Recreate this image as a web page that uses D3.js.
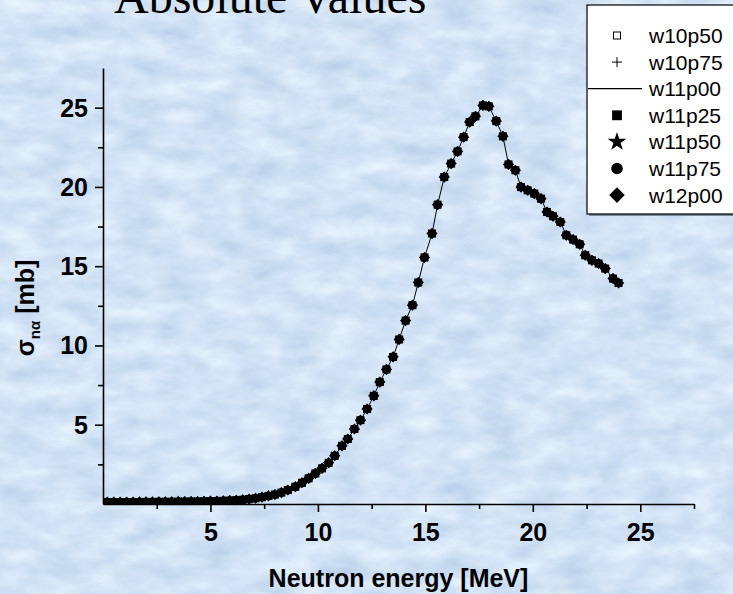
<!DOCTYPE html>
<html>
<head>
<meta charset="utf-8">
<script src="https://cdn.jsdelivr.net/npm/d3@7/dist/d3.min.js"></script>
<style>
  html, body { margin: 0; padding: 0; background: #d2e3f5; }
  svg { display: block; }
</style>
</head>
<body>
<svg id="chart" width="733" height="594"></svg>
<script>
// Neutron energy grid [MeV]
const energy = [
  0.2, 0.5, 0.8, 1.1, 1.4, 1.7, 2.0, 2.3, 2.6, 2.9,
  3.2, 3.5, 3.8, 4.1, 4.4, 4.7, 5.0, 5.3, 5.6, 5.9,
  6.2, 6.5, 6.8, 7.1, 7.4, 7.7, 8.0, 8.3, 8.6, 8.95,
  9.26, 9.57, 9.88, 10.19, 10.5, 10.78, 11.12, 11.39, 11.7, 11.98,
  12.29, 12.6, 12.88, 13.19, 13.5, 13.78, 14.08, 14.4, 14.67, 14.96,
  15.31, 15.57, 15.88, 16.2, 16.5, 16.78, 17.06, 17.33, 17.68, 17.95,
  18.3, 18.61, 18.87, 19.19, 19.45, 19.76, 20.07, 20.38, 20.66, 20.94,
  21.28, 21.56, 21.87, 22.18, 22.44, 22.75, 23.06, 23.37, 23.73, 23.99
];

// (n,alpha) cross section [mb]; the calculated curves coincide on this scale
const sigma = [
  0.12, 0.12, 0.12, 0.12, 0.12, 0.13, 0.13, 0.13, 0.14, 0.14,
  0.14, 0.15, 0.15, 0.16, 0.16, 0.17, 0.18, 0.19, 0.2, 0.22,
  0.24, 0.27, 0.31, 0.36, 0.43, 0.51, 0.6, 0.72, 0.88, 1.09,
  1.34, 1.62, 1.93, 2.25, 2.6, 3.04, 3.67, 4.1, 4.73, 5.29,
  5.99, 6.82, 7.69, 8.49, 9.28, 10.38, 11.57, 12.54, 13.97, 15.55,
  17.06, 18.88, 20.62, 21.47, 22.24, 23.14, 24.09, 24.45, 25.14, 25.08,
  24.15, 23.19, 21.42, 21.05, 19.99, 19.79, 19.58, 19.26, 18.42, 18.15,
  17.79, 16.95, 16.68, 16.38, 15.69, 15.37, 15.17, 14.85, 14.22, 13.94
];

const seriesNames = ["w10p50", "w10p75", "w11p00", "w11p25", "w11p50", "w11p75", "w12p00"];
const seriesKinds = ["openSquare", "plus", "line", "square", "star", "circle", "diamond"];

const xMajorTicks = [5, 10, 15, 20, 25];
const xMinorTicks = [2.5, 7.5, 12.5, 17.5, 22.5, 27.5];
const yMajorTicks = [5, 10, 15, 20, 25];
const yMinorTicks = [2.5, 7.5, 12.5, 17.5, 22.5];

const titleText = "Absolute Values";
const xTitle = "Neutron energy [MeV]";

const svg = d3.select("#chart");
const W = 733, H = 594;
const plot = { left: 103, right: 694, top: 68, bottom: 504 };

// --- textured light-blue paper background ---
const defs = svg.append("defs");
const tissue = defs.append("filter")
  .attr("id", "tissue")
  .attr("filterUnits", "userSpaceOnUse")
  .attr("x", 0).attr("y", 0).attr("width", W).attr("height", H)
  .attr("color-interpolation-filters", "sRGB");
tissue.append("feTurbulence")
  .attr("type", "fractalNoise")
  .attr("baseFrequency", "0.025 0.05")
  .attr("numOctaves", 4)
  .attr("seed", 5);
tissue.append("feColorMatrix")
  .attr("type", "matrix")
  .attr("values",
    "0.22 0 0 0 0.715 " +
    "0.17 0 0 0 0.805 " +
    "0.10 0 0 0 0.91 " +
    "0 0 0 0 1");
svg.append("rect").attr("width", W).attr("height", H).attr("fill", "#d2e3f5");
svg.append("rect").attr("width", W).attr("height", H).attr("filter", "url(#tissue)");

defs.append("clipPath").attr("id", "plotClip")
  .append("rect")
  .attr("x", plot.left).attr("y", 0)
  .attr("width", W - plot.left).attr("height", plot.bottom);

// --- title (runs off the top edge) ---
svg.append("text")
  .attr("x", 114).attr("y", 13)
  .attr("font-family", "'Liberation Serif', 'Times New Roman', serif")
  .attr("font-size", 48)
  .attr("fill", "#000")
  .text(titleText);

// --- scales ---
const x = d3.scaleLinear().domain([0, 27.5]).range([plot.left, plot.right]);
const y = d3.scaleLinear().domain([0, 27.5]).range([plot.bottom, plot.top]);

const axisFont = "'Liberation Sans', Arial, sans-serif";

// --- axes ---
const gx = svg.append("g").attr("transform", `translate(0,${plot.bottom})`);
gx.call(d3.axisBottom(x).tickValues(xMajorTicks).tickSize(8).tickSizeOuter(0).tickPadding(6));
const gxm = svg.append("g").attr("transform", `translate(0,${plot.bottom})`);
gxm.call(d3.axisBottom(x).tickValues(xMinorTicks).tickSize(5).tickSizeOuter(0).tickFormat(""));
gxm.select(".domain").remove();

const gy = svg.append("g").attr("transform", `translate(${plot.left},0)`);
gy.call(d3.axisLeft(y).tickValues(yMajorTicks).tickSize(8).tickSizeOuter(0).tickPadding(7));
const gym = svg.append("g").attr("transform", `translate(${plot.left},0)`);
gym.call(d3.axisLeft(y).tickValues(yMinorTicks).tickSize(5).tickSizeOuter(0).tickFormat(""));
gym.select(".domain").remove();

svg.selectAll(".domain, .tick line").attr("stroke", "#000").attr("stroke-width", 1.6);
gx.selectAll(".tick text")
  .attr("font-family", axisFont).attr("font-weight", "bold")
  .attr("font-size", 25).attr("fill", "#000").attr("dy", "0.92em");
gy.selectAll(".tick text")
  .attr("font-family", axisFont).attr("font-weight", "bold")
  .attr("font-size", 25).attr("fill", "#000").attr("dy", "0.34em");

// --- axis titles ---
svg.append("text")
  .attr("x", (plot.left + plot.right) / 2).attr("y", 587)
  .attr("text-anchor", "middle")
  .attr("font-family", axisFont).attr("font-weight", "bold")
  .attr("font-size", 25).attr("fill", "#000")
  .text(xTitle);

const yt = svg.append("text")
  .attr("transform", "translate(34,308) rotate(-90)")
  .attr("text-anchor", "middle")
  .attr("font-family", axisFont).attr("font-weight", "bold")
  .attr("font-size", 25).attr("fill", "#000");
yt.append("tspan").text("σ");
yt.append("tspan").attr("font-size", 15).attr("dy", 6).text("nα");
yt.append("tspan").attr("dy", -6).text(" [mb]");

// --- marker shapes ---
function drawMarker(sel, kind, scale) {
  const s = scale;
  if (kind === "openSquare") {
    sel.append("rect").attr("x", -3.5 * s).attr("y", -3.5 * s)
      .attr("width", 7 * s).attr("height", 7 * s)
      .attr("fill", "none").attr("stroke", "#000").attr("stroke-width", 1);
  } else if (kind === "plus") {
    sel.append("path")
      .attr("d", `M${-5 * s},0H${5 * s}M0,${-5 * s}V${5 * s}`)
      .attr("stroke", "#000").attr("stroke-width", 1).attr("fill", "none");
  } else if (kind === "square") {
    sel.append("path").attr("d", d3.symbol(d3.symbolSquare, 46 * s * s)())
      .attr("fill", "#000");
  } else if (kind === "star") {
    sel.append("path").attr("d", d3.symbol(d3.symbolStar, 30 * s * s)())
      .attr("fill", "#000");
  } else if (kind === "circle") {
    sel.append("path").attr("d", d3.symbol(d3.symbolCircle, 50 * s * s)())
      .attr("fill", "#000");
  } else if (kind === "diamond") {
    sel.append("path").attr("d", d3.symbol(d3.symbolSquare, 62 * s * s)())
      .attr("transform", "rotate(45)")
      .attr("fill", "#000");
  }
}

const pts = energy.map((e, i) => ({ e, v: sigma[i] }));
const plotG = svg.append("g").attr("clip-path", "url(#plotClip)");

seriesKinds.forEach((kind, k) => {
  if (kind === "line") {
    plotG.append("path")
      .datum(pts)
      .attr("d", d3.line().x(d => x(d.e)).y(d => y(d.v)))
      .attr("fill", "none").attr("stroke", "#000").attr("stroke-width", 1);
  } else {
    plotG.append("g").attr("class", "series-" + seriesNames[k])
      .selectAll("g").data(pts).join("g")
      .attr("transform", d => `translate(${x(d.e)},${y(d.v)})`)
      .each(function () { drawMarker(d3.select(this), kind, 1); });
  }
});

// --- legend ---
const legend = svg.append("g");
legend.append("rect")
  .attr("x", 589).attr("y", 7).attr("width", 160).attr("height", 209)
  .attr("fill", "#7f8a96");
legend.append("rect")
  .attr("x", 587).attr("y", 5).attr("width", 160).attr("height", 209)
  .attr("fill", "#fff").attr("stroke", "#000").attr("stroke-width", 1.2);

seriesNames.forEach((name, i) => {
  const cy = 35.5 + i * 26.6;
  const kind = seriesKinds[i];
  const g = legend.append("g").attr("transform", `translate(617,${cy})`);
  if (kind === "line") {
    g.append("line").attr("x1", -29).attr("x2", 25).attr("y1", 0).attr("y2", 0)
      .attr("stroke", "#000").attr("stroke-width", 1.2);
  } else if (kind === "openSquare" || kind === "plus") {
    drawMarker(g, kind, 1);
  } else if (kind === "star") {
    drawMarker(g, kind, 1.9);
  } else if (kind === "diamond") {
    drawMarker(g, kind, 1.4);
  } else {
    drawMarker(g, kind, 1.45);
  }
  legend.append("text")
    .attr("x", 649).attr("y", cy + 7.5)
    .attr("font-family", axisFont).attr("font-size", 21).attr("fill", "#000")
    .text(name);
});
</script>
</body>
</html>
